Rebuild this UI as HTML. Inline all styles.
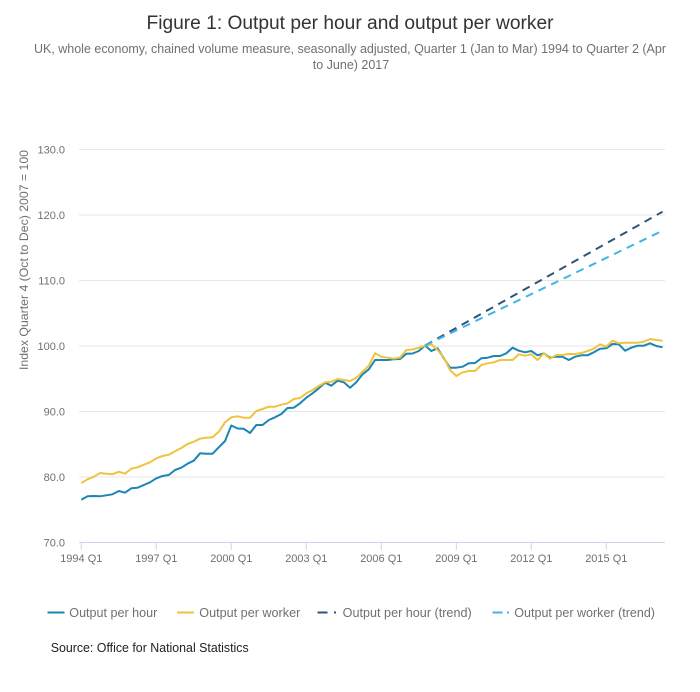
<!DOCTYPE html>
<html>
<head>
<meta charset="utf-8">
<style>
html,body{margin:0;padding:0;background:#fff;}
svg{display:block;}
text{font-family:"Liberation Sans",Arial,sans-serif;}
</style>
</head>
<body>
<svg width="700" height="692" viewBox="0 0 700 692" xmlns="http://www.w3.org/2000/svg">
<rect width="700" height="692" fill="#fff"/>
<!-- Title -->
<text x="350" y="29" text-anchor="middle" font-size="19" fill="#333" textLength="407" lengthAdjust="spacingAndGlyphs">Figure 1: Output per hour and output per worker</text>
<text x="350" y="53" text-anchor="middle" font-size="12.5" fill="#707070" textLength="632" lengthAdjust="spacingAndGlyphs">UK, whole economy, chained volume measure, seasonally adjusted, Quarter 1 (Jan to Mar) 1994 to Quarter 2 (Apr</text>
<text x="351" y="69" text-anchor="middle" font-size="12.5" fill="#707070">to June) 2017</text>

<!-- Gridlines -->
<g stroke="#e6e6e6" stroke-width="1">
<line x1="79" y1="149.5" x2="665" y2="149.5"/>
<line x1="79" y1="215" x2="665" y2="215"/>
<line x1="79" y1="280.5" x2="665" y2="280.5"/>
<line x1="79" y1="346" x2="665" y2="346"/>
<line x1="79" y1="411.5" x2="665" y2="411.5"/>
<line x1="79" y1="477" x2="665" y2="477"/>
</g>
<!-- X axis -->
<line x1="79" y1="542.5" x2="665" y2="542.5" stroke="#ccd6eb" stroke-width="1"/>
<g stroke="#ccd6eb" stroke-width="1">
<line x1="81.3" y1="542.5" x2="81.3" y2="550"/>
<line x1="156.3" y1="542.5" x2="156.3" y2="550"/>
<line x1="231.3" y1="542.5" x2="231.3" y2="550"/>
<line x1="306.3" y1="542.5" x2="306.3" y2="550"/>
<line x1="381.3" y1="542.5" x2="381.3" y2="550"/>
<line x1="456.3" y1="542.5" x2="456.3" y2="550"/>
<line x1="531.3" y1="542.5" x2="531.3" y2="550"/>
<line x1="606.3" y1="542.5" x2="606.3" y2="550"/>
</g>
<g font-size="11" fill="#707070" text-anchor="middle">
<text x="81.3" y="562">1994 Q1</text>
<text x="156.3" y="562">1997 Q1</text>
<text x="231.3" y="562">2000 Q1</text>
<text x="306.3" y="562">2003 Q1</text>
<text x="381.3" y="562">2006 Q1</text>
<text x="456.3" y="562">2009 Q1</text>
<text x="531.3" y="562">2012 Q1</text>
<text x="606.3" y="562">2015 Q1</text>
</g>
<!-- Y labels -->
<g font-size="11" fill="#707070" text-anchor="end">
<text x="65" y="153.5">130.0</text>
<text x="65" y="219">120.0</text>
<text x="65" y="284.5">110.0</text>
<text x="65" y="350">100.0</text>
<text x="65" y="415.5">90.0</text>
<text x="65" y="481">80.0</text>
<text x="65" y="546.5">70.0</text>
</g>
<text transform="translate(28,260) rotate(-90)" text-anchor="middle" font-size="12" fill="#707070" textLength="220" lengthAdjust="spacingAndGlyphs">Index Quarter 4 (Oct to Dec) 2007 = 100</text>

<!-- Series -->
<g transform="translate(81.3 0) scale(6.25 1)" fill="none" stroke-width="2" stroke-linejoin="round">
<polyline vector-effect="non-scaling-stroke" stroke="#1a86b4" points="0,499.7 1,496.3 2,496.0 3,496.3 4,495.3 5,494.3 6,491.0 7,492.7 8,488.3 9,487.7 10,485.0 11,482.3 12,478.3 13,476.0 14,475.0 15,470.0 16,467.7 17,463.7 18,460.7 19,453.3 20,453.7 21,453.7 22,447.3 23,441.0 24,425.5 25,428.5 26,428.8 27,433.0 28,425.0 29,425.0 30,420.0 31,417.3 32,414.0 33,408.0 34,407.7 35,403.3 36,397.7 37,393.3 38,388.3 39,382.7 40,385.7 41,380.7 42,382.3 43,387.7 44,382.3 45,374.3 46,369.3 47,360.0 48,360.0 49,360.0 50,359.3 51,359.0 52,353.8 53,353.5 54,351.0 55,345.5 56,351.0 57,348.3 58,358.3 59,367.7 60,367.7 61,366.7 62,363.3 63,363.0 64,358.3 65,357.7 66,356.0 67,356.0 68,353.3 69,347.7 70,350.7 71,352.3 72,351.0 73,355.3 74,353.3 75,357.7 76,356.7 77,356.7 78,360.0 79,356.7 80,355.3 81,355.3 82,352.3 83,348.7 84,348.3 85,344.0 86,344.3 87,350.7 88,347.7 89,345.7 90,345.7 91,343.3 92,346.0 93,347.3"/>
<polyline vector-effect="non-scaling-stroke" stroke="#efc33d" points="0,483.0 1,479.3 2,476.7 3,473.0 4,473.7 5,474.3 6,471.7 7,473.7 8,468.7 9,467.3 10,464.7 11,462.3 12,458.3 13,456.0 14,454.7 15,451.3 16,448.0 17,444.0 18,441.7 19,438.7 20,437.7 21,437.3 22,431.7 23,422.3 24,417.3 25,416.3 26,417.7 27,417.7 28,411.0 29,409.0 30,406.7 31,406.7 32,404.7 33,403.3 34,399.0 35,398.0 36,393.3 37,390.0 38,386.0 39,382.3 40,381.7 41,379.0 42,380.0 43,381.0 44,377.7 45,371.7 46,365.7 47,353.3 48,356.7 49,357.7 50,358.7 51,357.5 52,350.0 53,349.5 54,347.7 55,345.7 56,344.3 57,350.0 58,357.5 59,370.0 60,376.0 61,372.3 62,371.0 63,371.0 64,365.0 65,363.3 66,362.3 67,360.0 68,360.0 69,360.0 70,354.3 71,355.7 72,354.3 73,360.0 74,353.3 75,358.7 76,355.0 77,355.0 78,354.0 79,354.0 80,353.0 81,351.0 82,348.7 83,344.3 84,346.7 85,340.7 86,343.3 87,342.7 88,342.7 89,342.7 90,341.7 91,339.0 92,340.0 93,340.7"/>
</g>
<!-- Trends -->
<line x1="425.05" y1="345.5" x2="662.55" y2="211.7" stroke="#2f5479" stroke-width="2" stroke-dasharray="8,6"/>
<line x1="425.05" y1="345.5" x2="662.55" y2="230.7" stroke="#40b4e5" stroke-width="2" stroke-dasharray="8,6"/>

<!-- Legend -->
<line x1="47.5" y1="612.5" x2="64.5" y2="612.5" stroke="#1a86b4" stroke-width="2"/>
<text x="69.3" y="617" font-size="12.5" fill="#707070" textLength="88" lengthAdjust="spacingAndGlyphs">Output per hour</text>
<line x1="177" y1="612.5" x2="194" y2="612.5" stroke="#efc33d" stroke-width="2"/>
<text x="199.3" y="617" font-size="12.5" fill="#707070" textLength="101" lengthAdjust="spacingAndGlyphs">Output per worker</text>
<line x1="317.5" y1="612.5" x2="327.5" y2="612.5" stroke="#2f5479" stroke-width="2"/>
<line x1="334" y1="612.5" x2="336" y2="612.5" stroke="#2f5479" stroke-width="2"/>
<text x="342.7" y="617" font-size="12.5" fill="#707070" textLength="129" lengthAdjust="spacingAndGlyphs">Output per hour (trend)</text>
<line x1="492.5" y1="612.5" x2="502.5" y2="612.5" stroke="#40b4e5" stroke-width="2"/>
<line x1="507" y1="612.5" x2="509" y2="612.5" stroke="#40b4e5" stroke-width="2"/>
<text x="514.3" y="617" font-size="12.5" fill="#707070" textLength="140.7" lengthAdjust="spacingAndGlyphs">Output per worker (trend)</text>

<!-- Source -->
<text x="50.7" y="652" font-size="12.5" fill="#222" textLength="198" lengthAdjust="spacingAndGlyphs">Source: Office for National Statistics</text>
</svg>
</body>
</html>
